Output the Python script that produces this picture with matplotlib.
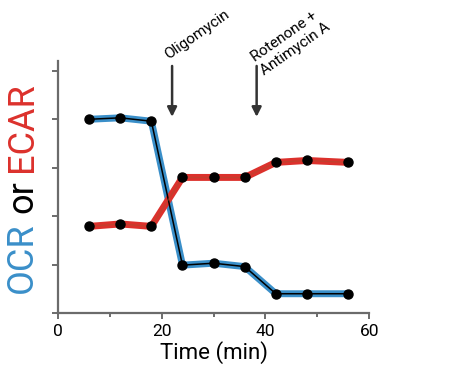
import matplotlib
matplotlib.use("Agg")
import matplotlib.pyplot as plt
from matplotlib.ticker import MultipleLocator

plt.rcParams['font.family'] = ['Roboto', 'DejaVu Sans']

time_min = [6, 12, 18, 24, 30, 36, 42, 48, 56]
ocr = [4.0, 4.03, 3.96, 0.99, 1.03, 0.96, 0.4, 0.4, 0.4]
ecar = [1.79, 1.84, 1.79, 2.8, 2.8, 2.8, 3.11, 3.15, 3.11]

injections = [22, 38.3]
inj_labels = ["Oligomycin", "Rotenone +\nAntimycin A"]

blue = "#3a8fc9"
red = "#dc312c"
axis_gray = "#6b6b6b"

fig = plt.figure(figsize=(4.53, 3.75), dpi=100)
ax = fig.add_axes([0.128, 0.165, 0.687, 0.672])

# ocr: thick blue band with thin black core
ax.plot(time_min, ocr, color=blue, lw=5, solid_capstyle='round', zorder=2)
ax.plot(time_min, ocr, color='black', lw=1.1, zorder=3)
# ecar: thick red band with faint darker core
ax.plot(time_min, ecar, color=red, lw=5, solid_capstyle='round', zorder=2)
ax.plot(time_min, ecar, color='#b04a30', lw=1.0, alpha=0.6, zorder=3)

ax.plot(time_min, ocr, 'o', color='black', ms=6.5, zorder=4)
ax.plot(time_min, ecar, 'o', color='black', ms=6.5, zorder=4)

ax.set_xlim(0, 60)
ax.set_ylim(0, 5.2)
ax.xaxis.set_major_locator(MultipleLocator(20))
ax.xaxis.set_minor_locator(MultipleLocator(10))
ax.yaxis.set_major_locator(MultipleLocator(1))
ax.set_yticklabels([])

for s in ['top', 'right']:
    ax.spines[s].set_visible(False)
for s in ['left', 'bottom']:
    ax.spines[s].set_color(axis_gray)
    ax.spines[s].set_linewidth(1.6)

ax.tick_params(axis='both', which='both', color=axis_gray, width=1.4,
               direction='out', labelcolor='black')
ax.tick_params(axis='x', which='major', length=4, labelsize=12.5, pad=4)
ax.tick_params(axis='x', which='minor', length=3)
ax.tick_params(axis='y', length=4)
ax.set_xlabel("Time (min)", fontsize=16, labelpad=1)

# injection arrows
for x in injections:
    ax.annotate("", xy=(x, 4.05), xytext=(x, 5.1),
                arrowprops=dict(arrowstyle='-|>', color='#333333', lw=1.8,
                                mutation_scale=14, shrinkA=0, shrinkB=0),
                annotation_clip=False)

ax.text(21.2, 5.24, inj_labels[0], rotation=35, rotation_mode='anchor',
        ha='left', va='baseline', fontsize=11, clip_on=False)
ax.text(40.2, 4.85, inj_labels[1], rotation=35, rotation_mode='anchor',
        ha='left', va='bottom', fontsize=11, linespacing=1.25, clip_on=False)

# multi-coloured y label, pieces laid end to end along a shared baseline
ylab_parts = ["OCR", "or", "ECAR"]
ylab_colors = [blue, 'black', red]
base_x = 32
y_cur = 375 - 293
gap = 9
fig.canvas.draw()
r = fig.canvas.get_renderer()
for txt, c in zip(ylab_parts, ylab_colors):
    t = fig.text(base_x / 453, y_cur / 375, txt, rotation=90, color=c,
                 fontsize=26, rotation_mode='anchor', ha='left', va='baseline')
    bb = t.get_window_extent(r)
    y_cur = bb.y1 + gap

fig.savefig("out.png", dpi=100)
